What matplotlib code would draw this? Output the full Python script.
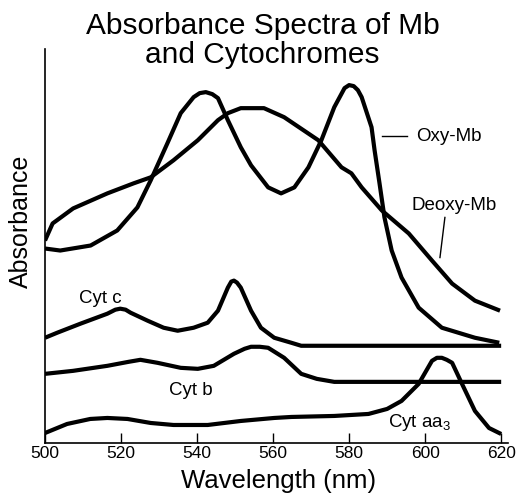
import matplotlib
matplotlib.use("Agg")
import matplotlib.pyplot as plt

plt.rcParams["font.family"] = ["Liberation Sans", "DejaVu Sans"]
plt.rcParams["mathtext.fontset"] = "custom"
plt.rcParams["mathtext.rm"] = "Liberation Sans"

# ── Data (arbitrary absorbance units) ──────────────────────────────────────────

oxy_nm = [500, 504, 512, 519, 524.3, 527.8, 532.2, 535.7, 539.1, 540.7, 542.3,
          544.0, 545.5, 548.1, 551.5, 554.2, 558.7, 562.1, 565.6, 569.3, 572.7,
          576.1, 578.8, 580.0, 581.2, 582.3, 583.3, 585.9, 586.7, 588.0, 589.3,
          591.2, 593.8, 598.3, 604.4, 613.1, 619.5]
oxy_abs = [1.94, 1.92, 1.97, 2.12, 2.35, 2.62, 2.99, 3.29, 3.45, 3.49, 3.50,
           3.48, 3.44, 3.22, 2.95, 2.77, 2.55, 2.49, 2.55, 2.75, 3.02,
           3.35, 3.54, 3.57, 3.56, 3.52, 3.45, 3.15, 2.92, 2.59, 2.25,
           1.92, 1.65, 1.35, 1.15, 1.05, 1.00]

deoxy_nm = [500, 502, 507.4, 516.4, 523.3, 527.8, 533.8, 540.2, 545.5, 548.1,
            551.5, 557.6, 562.9, 571.9, 578, 580.6, 583.3, 588.6, 595.7, 601.8,
            607.1, 613.1, 619.7]
deoxy_abs = [2.02, 2.19, 2.34, 2.49, 2.59, 2.65, 2.82, 3.02, 3.22, 3.29,
             3.34, 3.34, 3.25, 3.02, 2.75, 2.69, 2.55, 2.32, 2.09, 1.82,
             1.59, 1.42, 1.32]

cytc_nm = [500, 503.2, 509.3, 516.4, 518.5, 519.8, 521.2, 522.5, 527, 531.2,
           534.9, 539.1, 542.8, 545.5, 548.1, 549.0, 549.7, 550.5, 551.5, 554.2,
           556.8, 560.3, 564.8, 567.4, 620]
cytc_abs = [1.05, 1.10, 1.19, 1.29, 1.33, 1.34, 1.33, 1.30, 1.22, 1.15,
            1.12, 1.15, 1.20, 1.32, 1.55, 1.61, 1.62, 1.60, 1.55, 1.32,
            1.15, 1.05, 1.00, 0.97, 0.97]

cytb_nm = [500, 507.4, 516.4, 522, 525.1, 529.6, 535.7, 540.2, 544.4, 549.7,
           552.5, 554.2, 556.5, 558.7, 562.9, 567.4, 571.5, 576.1, 620]
cytb_abs = [0.69, 0.72, 0.77, 0.81, 0.83, 0.80, 0.75, 0.74, 0.77, 0.89,
            0.94, 0.96, 0.96, 0.95, 0.85, 0.69, 0.64, 0.61, 0.61]

aa3_nm = [500, 505.8, 511.9, 516.4, 521.7, 527.8, 533.8, 542.8, 551.5, 560.3,
          564.8, 576.1, 585.1, 590.0, 593.8, 598.3, 601.8, 603.1, 604.4, 605.7,
          607.1, 609.7, 613.1, 616.8, 620]
aa3_abs = [0.10, 0.19, 0.24, 0.25, 0.24, 0.20, 0.18, 0.18, 0.22, 0.25,
           0.26, 0.27, 0.29, 0.34, 0.42, 0.59, 0.82, 0.85, 0.85, 0.83,
           0.80, 0.59, 0.32, 0.15, 0.09]

x_ticks = [500, 520, 540, 560, 580, 600, 620]

# ── Plot ──────────────────────────────────────────────────────────────────────

fig = plt.figure(figsize=(5.18, 4.95), dpi=100)
ax = fig.add_axes([0.0869, 0.105, 0.8938, 0.796])

line_kw = dict(color="black", linewidth=3.0, solid_joinstyle="round",
               solid_capstyle="butt")
for xs, ys in [(oxy_nm, oxy_abs), (deoxy_nm, deoxy_abs), (cytc_nm, cytc_abs),
               (cytb_nm, cytb_abs), (aa3_nm, aa3_abs)]:
    ax.plot(xs, ys, **line_kw)

# curve labels + leader lines
lab_kw = dict(fontsize=13.5, color="black")
ax.plot([588.6, 595.2], [3.06, 3.06], color="black", linewidth=1.0)
ax.text(597.6, 3.06, "Oxy-Mb", ha="left", va="center", **lab_kw)
ax.plot([605.2, 603.9], [2.25, 1.85], color="black", linewidth=1.0)
ax.text(596.5, 2.37, "Deoxy-Mb", ha="left", va="center", **lab_kw)
ax.text(514.5, 1.44, "Cyt c", ha="center", va="center", **lab_kw)
ax.text(538.3, 0.52, "Cyt b", ha="center", va="center", **lab_kw)
ax.text(598.5, 0.20, r"Cyt aa$_\mathrm{3}$", ha="center", va="center", **lab_kw)

ax.set_xlim(500, 621.8)
ax.set_ylim(0, 3.93)
ax.set_xticks(x_ticks)
ax.set_yticks([])
ax.tick_params(axis="x", direction="in", length=7, width=1, labelsize=12.5, pad=2)
for side in ["top", "right"]:
    ax.spines[side].set_visible(False)
for side in ["left", "bottom"]:
    ax.spines[side].set_linewidth(1.2)

ax.set_xlabel("Wavelength (nm)", fontsize=18.5)
ax.xaxis.set_label_coords(0.505, -0.066)
ax.set_ylabel("Absorbance", fontsize=18)
ax.yaxis.set_label_coords(-0.027, 0.563)

fig.text(0.507, 0.976, "Absorbance Spectra of Mb\nand Cytochromes",
         ha="center", va="top", fontsize=21.5, linespacing=1.05)

fig.savefig("out.png", dpi=100)
